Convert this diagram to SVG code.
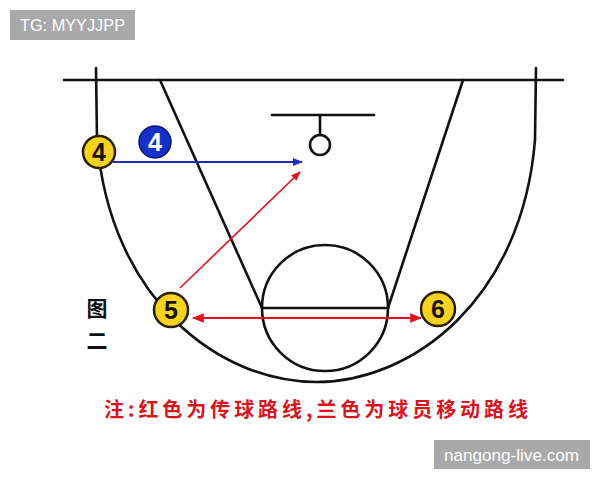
<svg xmlns="http://www.w3.org/2000/svg" width="600" height="480" viewBox="0 0 600 480">
<style>
.ln{fill:none;stroke:#111;stroke-width:2.6;stroke-linecap:round}
.yc{fill:#f7d21e;stroke:#2a2000;stroke-width:2.5}
.num{font-family:"Liberation Sans",Arial,sans-serif;font-size:25px;font-weight:bold;text-anchor:middle;fill:#1a1200}
.wm{fill:#a9a9a9}
.wt{font-family:"Liberation Sans",Arial,sans-serif;font-size:17px;fill:#fff}
</style>
<defs>
<marker id="ab" viewBox="0 0 10 10" refX="9" refY="5" markerWidth="5" markerHeight="5" orient="auto" markerUnits="strokeWidth"><path d="M0,1 L10,5 L0,9 Z" fill="#1c2bb8"/></marker>
<marker id="ar" viewBox="0 0 10 10" refX="9" refY="5" markerWidth="6" markerHeight="6" orient="auto-start-reverse" markerUnits="strokeWidth"><path d="M0,1 L10,5 L0,9 Z" fill="#e3101c"/></marker>
</defs>
<rect width="600" height="480" fill="#fff"/>
<g id="court">
<line class="ln" x1="64" y1="80" x2="563" y2="80"/>
<path class="ln" d="M96,68 L97,140 C110,300 220,382 316,382 C412,382 522,300 535,140 L536,68"/>
<line class="ln" x1="160" y1="80" x2="262" y2="308"/>
<line class="ln" x1="463" y1="80" x2="388" y2="308"/>
<circle class="ln" cx="325" cy="308" r="63"/>
<line class="ln" x1="262" y1="308" x2="388" y2="308"/>
<line class="ln" x1="272" y1="115" x2="374" y2="115"/>
<line class="ln" x1="320" y1="115" x2="320" y2="135"/>
<circle class="ln" cx="320" cy="145" r="10"/>
</g>
<g id="connectors">
<line x1="113" y1="162" x2="302" y2="162" stroke="#1c2bb8" stroke-width="2" marker-end="url(#ab)"/>
<line x1="180" y1="288" x2="300" y2="172" stroke="#e3101c" stroke-width="1.6" marker-end="url(#ar)"/>
<line x1="193" y1="318" x2="421" y2="318" stroke="#e3101c" stroke-width="2" marker-start="url(#ar)" marker-end="url(#ar)"/>
</g>
<g id="p4y"><circle class="yc" cx="99" cy="152" r="16"/><text class="num" x="99" y="161">4</text></g>
<g id="p4b"><circle cx="155" cy="142" r="16" fill="#1530c8" stroke="#0a1470" stroke-width="1.5"/><text class="num" x="155" y="151" style="fill:#fff">4</text></g>
<g id="p5"><circle class="yc" cx="171" cy="310" r="17"/><text class="num" x="171" y="319">5</text></g>
<g id="p6"><circle class="yc" cx="438" cy="309" r="17"/><text class="num" x="438" y="318">6</text></g>
<g id="label">
<text x="97" y="316" font-family="'Noto Sans CJK SC',sans-serif" font-size="21" font-weight="bold" text-anchor="middle" fill="#111">图</text>
<text x="97" y="348" font-family="'Noto Sans CJK SC',sans-serif" font-size="21" font-weight="bold" text-anchor="middle" fill="#111">二</text>
</g>
<g id="note">
<text x="104" y="417" font-family="'Noto Sans CJK SC',sans-serif" font-size="20" font-weight="bold" fill="#d8141e" textLength="424" lengthAdjust="spacing">注:红色为传球路线,兰色为球员移动路线</text>
</g>
<g id="wm1"><rect class="wm" x="10" y="10" width="125" height="30"/><text class="wt" x="20" y="31" textLength="105" lengthAdjust="spacingAndGlyphs">TG: MYYJJPP</text></g>
<g id="wm2"><rect class="wm" x="434" y="440" width="156" height="29"/><text class="wt" x="444" y="461" textLength="135" lengthAdjust="spacingAndGlyphs">nangong-live.com</text></g>
</svg>
